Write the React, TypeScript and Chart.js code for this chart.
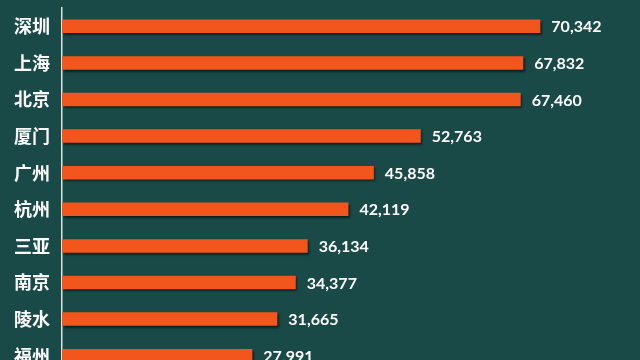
import React, { useEffect, useRef } from "react";
import { Chart, registerables } from "chart.js";

Chart.register(...registerables);

const cities = ["深圳", "上海", "北京", "厦门", "广州", "杭州", "三亚", "南京", "陵水", "福州"];
const values = [70342, 67832, 67460, 52763, 45858, 42119, 36134, 34377, 31665, 27991];

const BG = "#1a4a48";
const BAR = "#f3561c";

const shadowPlugin = {
  id: "barShadow",
  beforeDatasetDraw(chart: any) {
    const ctx = chart.ctx;
    ctx.save();
    ctx.shadowColor = "rgba(0,0,0,0.55)";
    ctx.shadowBlur = 2;
    ctx.shadowOffsetX = 1.5;
    ctx.shadowOffsetY = 2;
  },
  afterDatasetDraw(chart: any) {
    chart.ctx.restore();
  },
};

const valueLabelPlugin = {
  id: "valueLabels",
  afterDatasetsDraw(chart: any) {
    const ctx = chart.ctx;
    const meta = chart.getDatasetMeta(0);
    ctx.save();
    ctx.fillStyle = "#ffffff";
    ctx.font = "bold 16px Lato, 'Open Sans', sans-serif";
    ctx.textAlign = "left";
    ctx.textBaseline = "middle";
    meta.data.forEach((el: any, i: number) => {
      const v = chart.data.datasets[0].data[i] as number;
      ctx.fillText(v.toLocaleString("en-US"), el.x + 11, el.y + 1);
    });
    ctx.restore();
  },
};

const bgPlugin = {
  id: "bgFill",
  beforeDraw(chart: any) {
    const ctx = chart.ctx;
    ctx.save();
    ctx.fillStyle = BG;
    ctx.fillRect(0, 0, chart.width, chart.height);
    ctx.restore();
  },
};

export default function App() {
  const ref = useRef<HTMLCanvasElement>(null);
  useEffect(() => {
    document.body.style.margin = "0";
    document.body.style.background = BG;
    const chart = new Chart(ref.current!, {
      type: "bar",
      data: {
        labels: cities,
        datasets: [
          {
            data: values,
            backgroundColor: BAR,
            borderWidth: 0,
            barPercentage: 0.37,
            categoryPercentage: 1,
          },
        ],
      },
      options: {
        indexAxis: "y",
        responsive: false,
        animation: false,
        layout: { padding: { top: 8, right: 0, bottom: 0, left: 0 } },
        plugins: { legend: { display: false }, tooltip: { enabled: false } },
        scales: {
          x: { display: false, min: 0, max: 85000 },
          y: {
            afterFit(scale: any) {
              scale.width = 62;
              scale.paddingTop = 0;
              scale.paddingBottom = 0;
            },
            grid: { display: false, drawTicks: false },
            border: { display: true, color: "#d8e4e4", width: 1.5 },
            ticks: {
              color: "#ffffff",
              padding: 12,
              font: { family: "'Noto Sans CJK SC', sans-serif", size: 18, weight: "bold" },
            },
          },
        },
      },
      plugins: [bgPlugin, shadowPlugin, valueLabelPlugin],
    });
    return () => chart.destroy();
  }, []);
  return (
    <div style={{ width: 640, height: 374, background: BG }}>
      <canvas ref={ref} width={640} height={374} />
    </div>
  );
}
